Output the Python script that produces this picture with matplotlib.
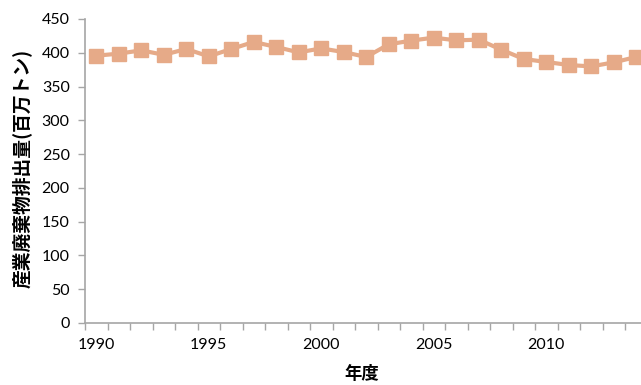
import matplotlib
matplotlib.use("Agg")
import matplotlib.pyplot as plt
import numpy as np

years = list(range(1990, 2015))
emissions = [395.7, 398.7, 403.6, 397.0, 405.6, 394.7, 405.6, 416.0, 408.6, 400.6,
             406.5, 401.0, 393.8, 412.5, 418.0, 422.4, 418.4, 419.4, 404.6, 390.8,
             386.4, 381.9, 379.8, 385.8, 393.8]
label_years = [1990, 1995, 2000, 2005, 2010]
ylabel = "産業廃棄物排出量(百万トン)"
xlabel = "年度"

W, H = 641, 385
fig = plt.figure(figsize=(W / 100, H / 100), dpi=100)
left, right, bottom, top = 85, 641, 323, 19
ax = fig.add_axes([left / W, 1 - bottom / H, (right - left) / W, (bottom - top) / H])

x = np.arange(len(years))
color = "#E6AA88"
ax.plot(x, emissions, color=color, lw=3, marker="s", ms=10.5, mec=color, mfc=color, zorder=3, clip_on=False)

ax.set_yticks(np.arange(0, 451, 50))
ax.set_xticks(np.arange(-0.5, len(years) + 1, 1))
ax.set_xticklabels([])
ax.set_xticks([years.index(y) for y in label_years], minor=True)
ax.set_xticklabels([str(y) for y in label_years], minor=True)

step = (right - left) / 22.5
ax.set_xlim(-0.5, -0.5 + step)
ax.set_ylim(0, 450)

for lab in ax.get_yticklabels() + ax.get_xticklabels(minor=True):
    lab.set_fontfamily(["Lato", "DejaVu Sans"])
    lab.set_fontsize(11.5)

gray = "#A6A6A6"
for s in ["top", "right"]:
    ax.spines[s].set_visible(False)
for s in ["left", "bottom"]:
    ax.spines[s].set_color(gray)
    ax.spines[s].set_linewidth(1.2)
ax.tick_params(axis="y", which="major", length=5, color=gray, width=1, pad=6, labelcolor="black")
ax.tick_params(axis="x", which="major", length=5, color=gray, width=1)
ax.tick_params(axis="x", which="minor", length=0, pad=11, labelcolor="black")

fig.text(22 / W, 1 - 168 / H, ylabel, rotation=90, ha="center", va="center",
         fontsize=13.5, fontweight="bold", family=["Noto Sans CJK JP", "DejaVu Sans"])
fig.text(362 / W, 1 - 374 / H, xlabel, ha="center", va="center",
         fontsize=12.5, fontweight="bold", family=["Noto Sans CJK JP", "DejaVu Sans"])

fig.savefig("out.png", dpi=100)
